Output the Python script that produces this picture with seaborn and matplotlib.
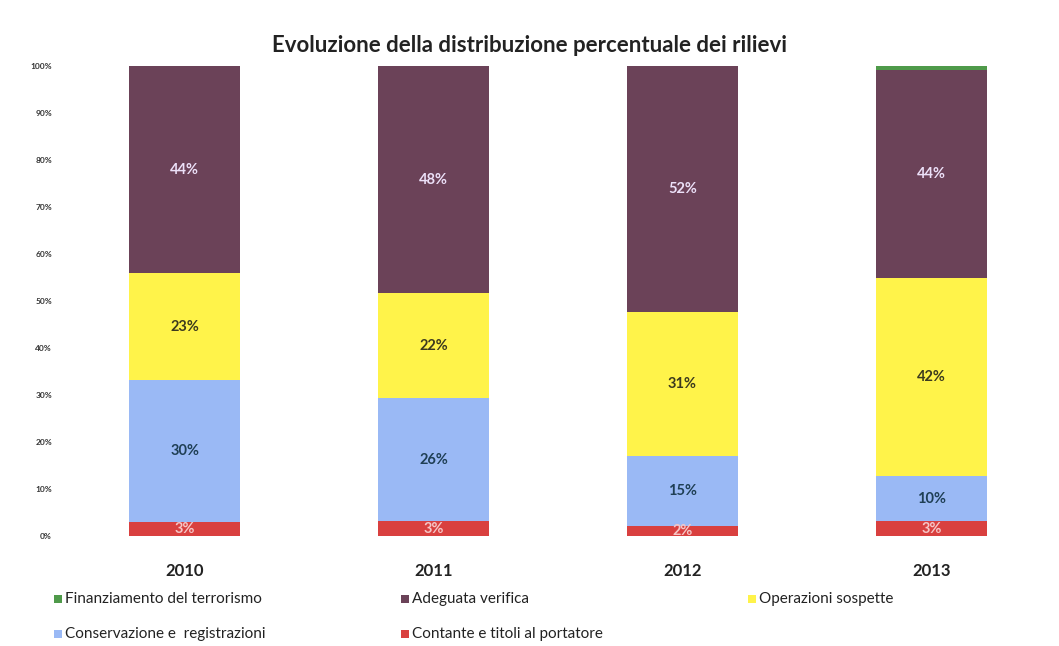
"""Stacked percentage bars: evoluzione della distribuzione dei rilievi."""

import matplotlib
matplotlib.use("Agg")
import matplotlib.pyplot as plt
from matplotlib.patches import Rectangle
import numpy as np
import pandas as pd
import seaborn as sns

years = ["2010", "2011", "2012", "2013"]

# values (percent), bottom to top
contante = [3.0, 3.2, 2.2, 3.2]
conservazione = [30.3, 26.2, 14.8, 9.6]
operazioni = [22.6, 22.3, 30.8, 42.1]
adeguata = [44.1, 48.3, 52.2, 44.3]
finanziamento = [0.0, 0.0, 0.0, 0.8]

series_names = [
    "Contante e titoli al portatore",
    "Conservazione e  registrazioni",
    "Operazioni sospette",
    "Adeguata verifica",
    "Finanziamento del terrorismo",
]
series_values = [contante, conservazione, operazioni, adeguata, finanziamento]
colors = ["#d9403f", "#9ab9f5", "#fff34a", "#6b4258", "#4f9a4a"]
label_colors = ["#f6c6c6", "#1f3f55", "#3c3a1e", "#ece0f8", None]

sns.set_theme(style="white")
plt.rcParams["font.family"] = ["Lato", "DejaVu Sans"]

fig = plt.figure(figsize=(10.59, 6.46), dpi=100)
ax = fig.add_axes([0.057, 0.170, 0.940, 0.7276])

vals = np.array(series_values)
tops = np.cumsum(vals, axis=0)

# overlay cumulative totals, tallest first, to get the stacked look
for i in range(len(series_names) - 1, -1, -1):
    df = pd.DataFrame({"year": years, "top": tops[i]})
    sns.barplot(data=df, x="year", y="top", color=colors[i], width=0.446,
                saturation=1, ax=ax, linewidth=0)

# segment labels
for i, name in enumerate(series_names):
    if label_colors[i] is None:
        continue
    for j in range(len(years)):
        v = vals[i, j]
        if v < 1.5:
            continue
        mid = tops[i, j] - v / 2
        ax.text(j, mid, f"{round(v):d}%", ha="center", va="center",
                fontsize=10.5, fontweight="bold", color=label_colors[i])

ax.set_xlim(-0.5, 3.5)
ax.set_ylim(0, 100)
ax.set_yticks(np.arange(0, 101, 10))
ax.set_yticklabels([f"{t}%" for t in range(0, 101, 10)], fontsize=6,
                   fontweight="bold", color="#333333")
ax.tick_params(axis="y", pad=6, length=0)
ax.tick_params(axis="x", length=0, pad=19)
ax.set_xticks(range(len(years)))
ax.set_xticklabels(years, fontsize=12, fontweight="bold", color="#222222")
ax.set_xlabel("")
ax.set_ylabel("")
sns.despine(ax=ax, left=True, bottom=True)

fig.text(0.50, 0.930, "Evoluzione della distribuzione percentuale dei rilievi",
         ha="center", va="center", fontsize=16, fontweight="bold",
         color="#222222")

# legend laid out like the original (3 columns, 2 rows)
legend_order = [4, 3, 2, 1, 0]
col_x = [58, 405, 752]
row_y = [599, 634]
for k, idx in enumerate(legend_order):
    px = col_x[k % 3]
    py = row_y[k // 3]
    fx = px / 1059
    fy = 1 - py / 646
    fig.patches.append(Rectangle((fx - 0.004, fy - 0.0065), 0.0075, 0.013,
                                 transform=fig.transFigure, facecolor=colors[idx],
                                 edgecolor="none"))
    fig.text(fx + 0.007, fy, series_names[idx], ha="left", va="center",
             fontsize=11, color="#222222")

fig.savefig("out.png", dpi=100)
